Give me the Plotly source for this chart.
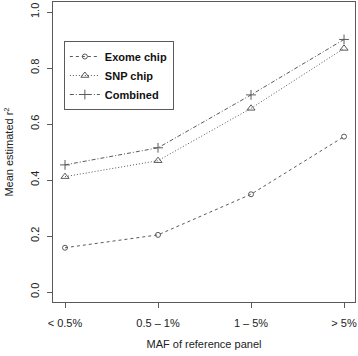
import plotly.graph_objects as go

categories = ["< 0.5%", "0.5 \u2013 1%", "1 \u2013 5%", "> 5%"]
positions = [1, 2, 3, 4]
exome_chip = [0.158, 0.204, 0.349, 0.555]
snp_chip = [0.412, 0.469, 0.656, 0.870]
combined = [0.454, 0.515, 0.704, 0.902]
y_ticks = [0.0, 0.2, 0.4, 0.6, 0.8, 1.0]

line_col = "#5a5a5a"
text_col = "#222222"
font_family = "Liberation Sans, Arial, sans-serif"

fig = go.Figure()
fig.add_trace(go.Scatter(
    x=positions, y=exome_chip, name="Exome chip", mode="lines+markers",
    line=dict(color=line_col, width=1, dash="3px,3px"),
    marker=dict(symbol="circle-open", size=5, color=line_col, line=dict(width=1, color=line_col)),
))
fig.add_trace(go.Scatter(
    x=positions, y=snp_chip, name="SNP chip", mode="lines+markers",
    line=dict(color=line_col, width=1, dash="1px,2px"),
    marker=dict(symbol="triangle-up-open", size=7, color=line_col, line=dict(width=1, color=line_col)),
))
fig.add_trace(go.Scatter(
    x=positions, y=combined, name="Combined", mode="lines+markers",
    line=dict(color=line_col, width=1, dash="4px,2px,1px,2px"),
    marker=dict(symbol="cross-thin-open", size=7, color=line_col, line=dict(width=1, color=line_col)),
))

fig.update_layout(
    width=358, height=356,
    margin=dict(l=53, r=3, t=2, b=54),
    paper_bgcolor="white", plot_bgcolor="white",
    font=dict(family=font_family, size=11, color=text_col),
    showlegend=True,
    legend=dict(
        x=0.036, y=0.87, xanchor="left", yanchor="top",
        bgcolor="white", bordercolor=line_col, borderwidth=1,
        font=dict(family=font_family, size=11, color="#111111", weight="bold"),
        itemwidth=30, tracegroupgap=0,
    ),
)
fig.update_xaxes(
    range=[0.871, 4.118], tickmode="array", tickvals=positions, ticktext=categories,
    showline=True, mirror=True, linecolor=line_col, linewidth=1,
    ticks="outside", ticklen=5, tickcolor=line_col, showgrid=False, zeroline=False,
    ticklabelstandoff=6,
    title=dict(text="MAF of reference panel", standoff=12, font=dict(size=11)),
)
fig.update_yaxes(
    range=[-0.0357, 1.0357], tickmode="array", tickvals=y_ticks,
    ticktext=[f"{v:.1f}" for v in y_ticks], tickangle=-90,
    showline=True, mirror=True, linecolor=line_col, linewidth=1,
    ticks="outside", ticklen=5, tickcolor=line_col, showgrid=False, zeroline=False,
    ticklabelstandoff=4,
    title=dict(text="Mean estimated r<sup>2</sup>", standoff=12, font=dict(size=11)),
)

fig.write_html("out.html", config={"displayModeBar": False},
               post_script="document.body.style.margin='0';")
